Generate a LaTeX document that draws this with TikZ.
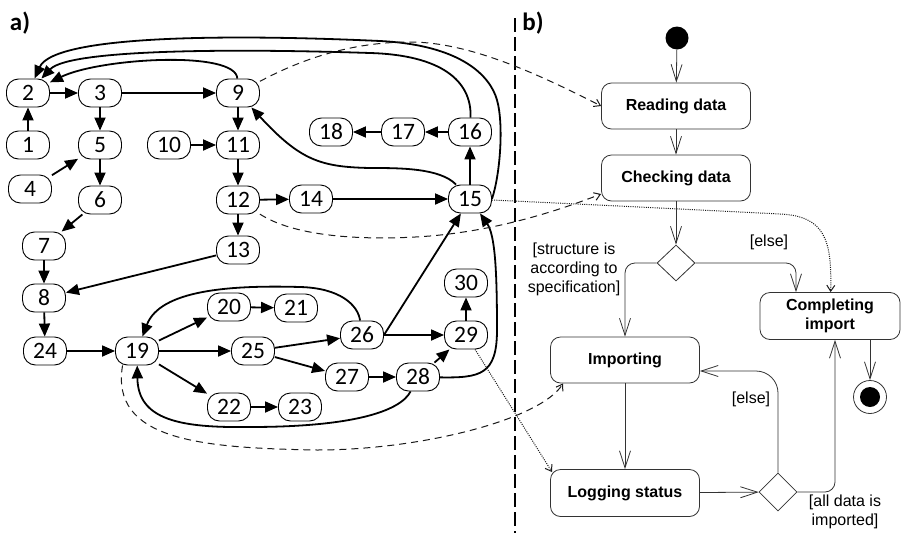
\documentclass[tikz,border=0pt]{standalone}
\usepackage{fontspec}
\setmainfont{Carlito}
\newfontfamily\arialfont{Liberation Sans}
\usetikzlibrary{arrows.meta, shapes.geometric}
\tikzset{
    task/.style={draw, fill=white, line width=0.9pt, rounded corners=12pt, minimum width=43pt, minimum height=28pt, inner sep=0pt, font=\fontsize{23.5}{23.5}\selectfont},
    dep/.style={-{Triangle[length=13pt,width=11pt]}, line width=1.8pt},
    activity/.style={draw=black!80, fill=white, line width=0.8pt, rounded corners=10pt, minimum width=149pt, minimum height=46pt, align=center, font=\arialfont\bfseries\fontsize{16}{19}\selectfont},
    decision/.style={draw=black!80, fill=white, line width=0.8pt, diamond, minimum width=38pt, minimum height=36pt, inner sep=0pt},
    flow/.style={draw=black!80, line width=0.8pt, -{Straight Barb[length=17pt,width=11pt]}},
    guard/.style={font=\arialfont\fontsize{16}{19}\selectfont, align=center, inner sep=0pt},
    maplink/.style={draw=black!90, line width=1pt, dash pattern=on 7pt off 5pt, -{Straight Barb[length=6pt,width=8pt]}},
    logtrace/.style={draw=black!90, line width=1pt, dash pattern=on 1pt off 1.2pt, -{Straight Barb[length=6pt,width=8pt]}},
    part/.style={font=\bfseries\fontsize{25}{25}\selectfont, inner sep=0pt},
}

\begin{document}
\begin{tikzpicture}[x=1pt, y=-1pt]
    \useasboundingbox (0,0) rectangle (902,533);

    % part labels and divider
    \node[part] (lblA) at (20,23) {a)};
    \node[part] (lblB) at (533,23) {b)};
    \coordinate (divtop) at (515,18);
    \coordinate (divbot) at (515,533);
    \draw[line width=1.8pt, dash pattern=on 14pt off 5pt] (divtop) -- (divbot);

    % a) task graph
    \node[task] (n1) at (28,145) {1};
    \node[task] (n2) at (28,93) {2};
    \node[task] (n3) at (100,93) {3};
    \node[task] (n4) at (30,189) {4};
    \node[task] (n5) at (100,145) {5};
    \node[task] (n6) at (100,200) {6};
    \node[task] (n7) at (44,246) {7};
    \node[task] (n8) at (44,298) {8};
    \node[task] (n9) at (238,93) {9};
    \node[task] (n10) at (169,145) {10};
    \node[task] (n11) at (238,145) {11};
    \node[task] (n12) at (238,200) {12};
    \node[task] (n13) at (238,250) {13};
    \node[task] (n14) at (311,199) {14};
    \node[task] (n15) at (470,199) {15};
    \node[task] (n16) at (470,132) {16};
    \node[task] (n17) at (403,132) {17};
    \node[task] (n18) at (331,132) {18};
    \node[task] (n19) at (137,351) {19};
    \node[task] (n20) at (229,307) {20};
    \node[task] (n21) at (296,308) {21};
    \node[task] (n22) at (229,407) {22};
    \node[task] (n23) at (300,407) {23};
    \node[task] (n24) at (45,351) {24};
    \node[task] (n25) at (253,351) {25};
    \node[task] (n26) at (362,335) {26};
    \node[task] (n27) at (347,377) {27};
    \node[task] (n28) at (418,377) {28};
    \node[task] (n29) at (466,335) {29};
    \node[task] (n30) at (466,283) {30};

    \path[dep] (n1) edge (n2)
          (n2) edge (n3)
          (n3) edge (n9)
          (n3) edge (n5)
          (n4) edge (n5)
          (n5) edge (n6)
          (n6) edge (n7)
          (n7) edge (n8)
          (n8) edge (n24)
          (n24) edge (n19)
          (n10) edge (n11)
          (n9) edge (n11)
          (n11) edge (n12)
          (n12) edge (n14)
          (n12) edge (n13)
          (n13) edge (n8)
          (n14) edge (n15)
          (n15) edge (n16)
          (n16) edge (n17)
          (n17) edge (n18)
          (n19) edge (n20)
          (n19) edge (n25)
          (n19) edge (n22)
          (n20) edge (n21)
          (n22) edge (n23)
          (n25) edge (n26)
          (n25) edge (n27)
          (n27) edge (n28)
          (n28) edge (n29)
          (n29) edge (n30)
          (n26) edge (n29)
          (n26.east) edge (n15)
    ;

    % back edges
    \draw[dep] (n9) .. controls (236,50) and (100,58) .. (n2);
    \draw[dep] (n16) .. controls (472,80) and (440,55) .. (370,53) .. controls (250,49) and (70,48) .. (n2);
    \draw[dep] (n15.east) .. controls (500,175) and (504,125) .. (497,100) .. controls (490,75) and (460,45) .. (380,41) .. controls (250,35) and (55,33) .. (n2);
    \draw[dep] (n15) .. controls (440,168) and (400,168) .. (370,168) .. controls (320,167) and (300,160) .. (n9);
    \draw[dep] (n26) .. controls (358,305) and (340,288) .. (300,287) .. controls (230,285) and (160,290) .. (n19);
    \draw[dep] (n28) .. controls (400,412) and (350,427) .. (250,427) .. controls (180,428) and (138,420) .. (n19);
    \draw[dep] (n28) .. controls (480,378) and (497,375) .. (497,330) .. controls (497,270) and (495,235) .. (n15);

    % b) activity diagram
    \node[circle, fill=black, minimum size=23pt, inner sep=0pt] (init) at (677,38) {};
    \node[activity] (reading) at (676,106) {Reading data};
    \node[activity] (checking) at (676,178) {Checking data};
    \node[decision] (d1) at (676,263) {};
    \node[activity, minimum width=140pt, minimum height=47pt] (complete) at (830,316) {Completing\\import};
    \node[activity] (import) at (625,360) {Importing};
    \node[activity, minimum height=47pt] (logging) at (625,493) {Logging status};
    \node[decision, minimum height=38pt] (d2) at (778,492) {};
    \node[circle, draw=black!80, line width=0.8pt, minimum size=33pt, inner sep=0pt] (final) at (870,397) {};
    \node[circle, fill=black, minimum size=20pt, inner sep=0pt] (finaldot) at (final) {};

    \node[guard] (g1) at (574,269) {[structure is\\according to\\specification]};
    \node[guard] (g2) at (769,242) {[else]};
    \node[guard] (g3) at (751,399) {[else]};
    \node[guard] (g4) at (845,512) {[all data is\\imported]};

    \draw[flow] (init) -- (reading);
    \draw[flow] (reading) -- (checking);
    \draw[flow] (checking) -- (d1);
    \draw[flow, rounded corners=10pt] (d1.west) -| (import.north);
    \draw[flow, rounded corners=10pt] (d1.east) -| ([xshift=-34pt]complete.north);
    \draw[flow] (import) -- (logging);
    \draw[flow] (logging) -- (d2);
    \draw[flow, rounded corners=22pt] (d2.north) |- ([yshift=-11pt]import.east);
    \draw[flow, rounded corners=10pt] (d2.east) -| ([xshift=5pt]complete.south);
    \draw[flow] (complete.south -| final) -- (final);

    % mapping between a) and b)
    \draw[maplink] (n9) .. controls (300,60) and (350,42) .. (410,42) .. controls (470,42) and (540,75) .. (reading.west);
    \draw[maplink] (n12) .. controls (300,240) and (380,240) .. (430,236) .. controls (500,230) and (560,210) .. ([yshift=-16pt]checking.west);
    \draw[maplink] (n19.225) .. controls (110,440) and (200,448) .. (317,450) .. controls (420,450) and (540,420) .. ([xshift=13pt]import.south west);
    \draw[logtrace] (n15) .. controls (600,205) and (700,210) .. (780,214) .. controls (825,216) and (832,240) .. (complete);
    \draw[logtrace] (n29) -- ([xshift=2pt,yshift=-3pt]logging.north west);
\end{tikzpicture}
\end{document}
